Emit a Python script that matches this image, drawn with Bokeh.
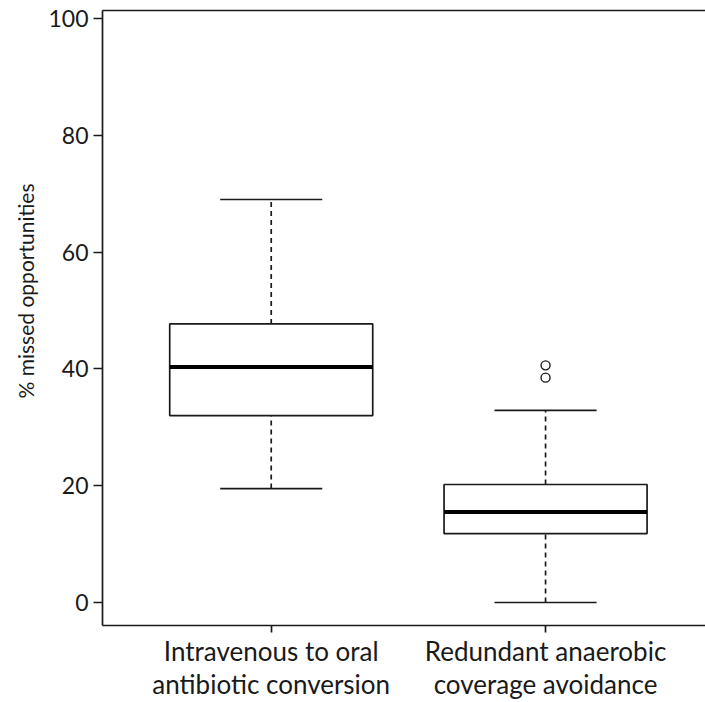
import math
from bokeh.plotting import figure
from bokeh.models import (FixedTicker, LinearAxis, Title, Range1d, ColumnDataSource)
from bokeh.embed import file_html
from bokeh.resources import INLINE

# ---- data ----
categories = ["Intravenous to oral\nantibiotic conversion",
              "Redundant anaerobic\ncoverage avoidance"]
positions = [1, 2]
lower_whisker = [19.5, 0.0]
q1 = [32.0, 11.8]
median = [40.3, 15.5]
q3 = [47.7, 20.2]
upper_whisker = [69.0, 32.9]
outlier_group = [2, 2]
outlier_values = [40.6, 38.5]
y_ticks = [0, 20, 40, 60, 80, 100]

BOX_HALF = 0.37
CAP_HALF = 0.186
INK = "#1a1a1a"
FONT = "Lato"

src = ColumnDataSource(dict(
    x=positions,
    left=[p - BOX_HALF for p in positions],
    right=[p + BOX_HALF for p in positions],
    capl=[p - CAP_HALF for p in positions],
    capr=[p + CAP_HALF for p in positions],
    lw=lower_whisker, q1=q1, med=median, q3=q3, uw=upper_whisker,
))

p = figure(width=705, height=702, output_backend="svg", toolbar_location=None,
           x_range=Range1d(0.385, 2.583), y_range=Range1d(-3.94, 101.36),
           min_border_left=102, min_border_right=0, min_border_top=10,
           min_border_bottom=77, x_axis_type=None, y_axis_type=None)
p.outline_line_color = None
p.background_fill_color = "white"
p.border_fill_color = "white"
p.xgrid.visible = False
p.ygrid.visible = False

# whiskers (dashed)
p.segment(x0="x", y0="q3", x1="x", y1="uw", source=src, line_color=INK,
          line_width=1.7, line_dash="5 4")
p.segment(x0="x", y0="lw", x1="x", y1="q1", source=src, line_color=INK,
          line_width=1.7, line_dash="5 4")
# caps
p.segment(x0="capl", y0="uw", x1="capr", y1="uw", source=src, line_color=INK, line_width=1.7)
p.segment(x0="capl", y0="lw", x1="capr", y1="lw", source=src, line_color=INK, line_width=1.7)
# boxes
p.quad(left="left", right="right", bottom="q1", top="q3", source=src,
       fill_color="white", line_color=INK, line_width=1.7)
# medians
p.segment(x0="left", y0="med", x1="right", y1="med", source=src, line_color="black", line_width=4)
# outliers
p.scatter(x=outlier_group, y=outlier_values, size=9, marker="circle",
          fill_color="white", line_color=INK, line_width=1.4)

# left axis
yax = LinearAxis(ticker=FixedTicker(ticks=y_ticks))
yax.axis_line_color = INK
yax.axis_line_width = 1.7
yax.major_tick_line_color = INK
yax.major_tick_line_width = 1.7
yax.major_tick_out = 9
yax.major_tick_in = 0
yax.minor_tick_line_color = None
yax.major_label_standoff = 5
yax.major_label_text_font = FONT
yax.major_label_text_font_size = "23px"
yax.major_label_text_color = INK
p.add_layout(yax, "left")

# bottom axis
xax = LinearAxis(ticker=FixedTicker(ticks=positions))
xax.major_label_overrides = {pos: lab for pos, lab in zip(positions, categories)}
xax.axis_line_color = INK
xax.axis_line_width = 1.7
xax.major_tick_line_color = INK
xax.major_tick_line_width = 1.7
xax.major_tick_out = 7
xax.major_tick_in = 0
xax.minor_tick_line_color = None
xax.major_label_standoff = 2
xax.major_label_text_font = FONT
xax.major_label_text_font_size = "26px"
xax.major_label_text_line_height = 1.04
xax.major_label_text_color = INK
p.add_layout(xax, "below")

# top frame line
tax = LinearAxis(ticker=FixedTicker(ticks=[]))
tax.axis_line_color = INK
tax.axis_line_width = 1.7
tax.major_tick_out = 0
tax.major_tick_in = 0
tax.minor_tick_line_color = None
tax.major_label_standoff = 0
tax.major_label_text_font_size = "0px"
p.add_layout(tax, "above")

# y axis label (as a side title so it can sit off-centre like the reference)
p.add_layout(Title(text="% missed opportunities", align="left", offset=227,
                   text_font=FONT, text_font_size="21px", text_font_style="normal",
                   text_color=INK, standoff=15), "left")

open("out.html", "w").write(file_html(p, INLINE))
